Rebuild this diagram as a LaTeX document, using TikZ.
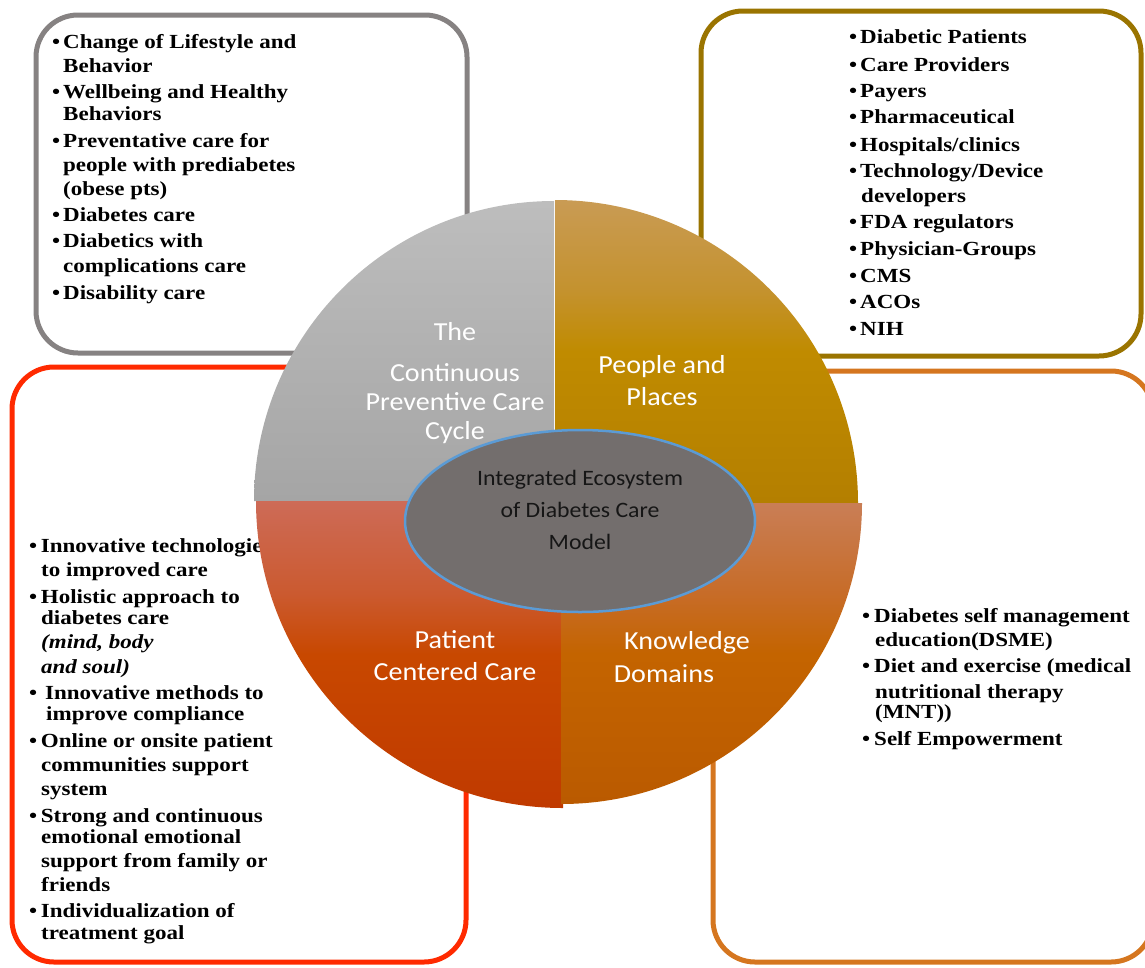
\documentclass[tikz,border=0pt]{standalone}
\usepackage{fontspec}
\usetikzlibrary{shapes.geometric}
\newfontfamily\boxfont[FakeStretch=1.15]{Liberation Serif}
\newfontfamily\calfont[FakeStretch=1.08]{Carlito}
\definecolor{gbox}{HTML}{868282}
\definecolor{ybox}{HTML}{9A7400}
\definecolor{rbox}{HTML}{FF2A00}
\definecolor{obox}{HTML}{D5761F}
\definecolor{grayT}{HTML}{BDBDBD}
\definecolor{grayB}{HTML}{A5A5A5}
\definecolor{goldT}{HTML}{C99B54}
\definecolor{goldQ}{HTML}{C4922E}
\definecolor{goldM}{HTML}{C08B00}
\definecolor{goldB}{HTML}{B47F00}
\definecolor{redT}{HTML}{CD6B57}
\definecolor{redQ}{HTML}{CB5A30}
\definecolor{redM}{HTML}{C84800}
\definecolor{redB}{HTML}{C03A00}
\definecolor{oraT}{HTML}{C97E56}
\definecolor{oraQ}{HTML}{C76C28}
\definecolor{oraM}{HTML}{C46400}
\definecolor{oraB}{HTML}{BA5A00}
\definecolor{coreFill}{HTML}{736E6D}
\definecolor{coreLine}{HTML}{5B9BD5}
\definecolor{coreText}{HTML}{161616}
\pgfdeclareverticalshading{goldshade}{100bp}{color(0bp)=(goldB); color(25bp)=(goldB); color(50bp)=(goldM); color(60bp)=(goldQ); color(75bp)=(goldT); color(100bp)=(goldT)}
\pgfdeclareverticalshading{redshade}{100bp}{color(0bp)=(redB); color(25bp)=(redB); color(50bp)=(redM); color(60bp)=(redQ); color(75bp)=(redT); color(100bp)=(redT)}
\pgfdeclareverticalshading{orashade}{100bp}{color(0bp)=(oraB); color(25bp)=(oraB); color(50bp)=(oraM); color(60bp)=(oraQ); color(75bp)=(oraT); color(100bp)=(oraT)}
\newcommand{\myItem}[5]{\node[itm] (#1) at (#3,#4) {#5}; \node[itm] (#1-b) at (#2,#4) {\textbullet};}
\newcommand{\myCont}[4]{\node[itm] (#1) at (#2,#3) {#4};}
\begin{document}
\begin{tikzpicture}[x=1pt,y=-1pt,
  box/.style={line width=5pt, rounded corners=42pt},
  itm/.style={anchor=base west, inner sep=0pt, font=\boxfont\bfseries\fontsize{20}{24}\selectfont},
  qlabel/.style={text=white, align=center, inner sep=0pt, font=\calfont\fontsize{26}{32}\selectfont},
]
\useasboundingbox (0,0) rectangle (1145,967);
\clip (0,0) rectangle (1145,967);

% boxes
\draw[box, draw=gbox] (36,15) rectangle (467,353);
\draw[box, draw=ybox] (701,11) rectangle (1141,356);
\draw[box, draw=rbox] (12,367) rectangle (466,962);
\draw[box, draw=obox] (713,371) rectangle (1153,962);

% gray box text
\myItem{g1}{52}{63}{48.7}{Change of Lifestyle and}
\myCont{g1c}{63}{72}{Behavior}
\myItem{g2}{52}{63}{98.7}{Wellbeing and Healthy}
\myCont{g2c}{63}{120}{Behaviors}
\myItem{g3}{52}{63}{147}{Preventative care for}
\myCont{g3c}{63}{171}{people with prediabetes}
\myCont{g3d}{63}{195}{(obese pts)}
\myItem{g4}{52}{63}{221}{Diabetes care}
\myItem{g5}{52}{63}{247.7}{Diabetics with}
\myCont{g5c}{63}{272.7}{complications care}
\myItem{g6}{52}{63}{299.3}{Disability care}

% gold box text
\myItem{p1}{849}{860}{43.7}{Diabetic Patients}
\myItem{p2}{849}{860}{71}{Care Providers}
\myItem{p3}{849}{860}{97.7}{Payers}
\myItem{p4}{849}{860}{123.7}{Pharmaceutical}
\myItem{p5}{849}{860}{151}{Hospitals/clinics}
\myItem{p6}{849}{860}{177.7}{Technology/Device}
\myCont{p6c}{861}{202}{developers}
\myItem{p7}{849}{860}{228.7}{FDA regulators}
\myItem{p8}{849}{860}{255}{Physician-Groups}
\myItem{p9}{849}{860}{282}{CMS}
\myItem{p10}{849}{860}{308.7}{ACOs}
\myItem{p11}{849}{860}{335.3}{NIH}

% red box text
\myItem{r1}{29}{40.7}{552}{Innovative technologies}
\myCont{r1c}{41}{576}{to improved care}
\myItem{r2}{29}{40.7}{603}{Holistic approach to}
\myCont{r2c}{41}{624}{diabetes care}
\myCont{r2d}{41}{648}{\itshape (mind, body}
\myCont{r2e}{41}{673}{\itshape and soul)}
\myItem{r3}{29}{45}{699}{Innovative methods to}
\myCont{r3c}{46}{720}{improve compliance}
\myItem{r4}{29}{40.7}{747.6}{Online or onsite patient}
\myCont{r4c}{41}{771.6}{communities support}
\myCont{r4d}{41}{795.6}{system}
\myItem{r5}{29}{40.7}{822}{Strong and continuous}
\myCont{r5c}{41}{843}{emotional emotional}
\myCont{r5d}{41}{867}{support from family or}
\myCont{r5e}{41}{891.6}{friends}
\myItem{r6}{29}{40.7}{917.5}{Individualization of}
\myCont{r6c}{41}{939}{treatment goal}

% orange box text
\myItem{k1}{862}{874}{622.5}{Diabetes self management}
\myCont{k1c}{875}{646.5}{education(DSME)}
\myItem{k2}{862}{874}{672.8}{Diet and exercise (medical}
\myCont{k2c}{875}{698}{nutritional therapy}
\myCont{k2d}{875}{718}{(MNT))}
\myItem{k3}{862}{874}{745}{Self Empowerment}

% circle quarters
\shade[top color=grayT, bottom color=grayB] (554,501) -- (254,501) arc[start angle=180, end angle=90, radius=300pt] -- cycle;
\shade[shading=goldshade] (555,503) -- (555,200) arc[start angle=90, end angle=0, radius=303pt] -- cycle;
\shade[shading=redshade] (563,501) -- (256,501) arc[start angle=180, end angle=270, radius=307pt] -- cycle;
\shade[shading=orashade] (561,503) -- (862,503) arc[start angle=0, end angle=-90, radius=301pt] -- cycle;

% quarter labels
\node[qlabel] (tl1) at (455,332) {The};
\node[qlabel, font=\calfont\fontsize{26}{29}\selectfont] (tl2) at (455,404) {Continuous\\Preventive Care\\Cycle};
\node[qlabel] (tr) at (662,381) {People and\\Places};
\node[qlabel] (bl) at (455,656) {Patient\\Centered Care};
\node[qlabel] (br1) at (687,643) {Knowledge};
\node[qlabel] (br2) at (664,674) {Domains};

% core ellipse
\node[ellipse, draw=coreLine, fill=coreFill, line width=2.5pt, minimum width=350pt, minimum height=182pt, inner sep=0pt] (core) at (580,521) {};
\node[align=center, inner sep=0pt, text=coreText, font=\calfont\fontsize{22}{32}\selectfont] (coretext) at (580,510) {Integrated Ecosystem\\of Diabetes Care\\Model};
\end{tikzpicture}
\end{document}
